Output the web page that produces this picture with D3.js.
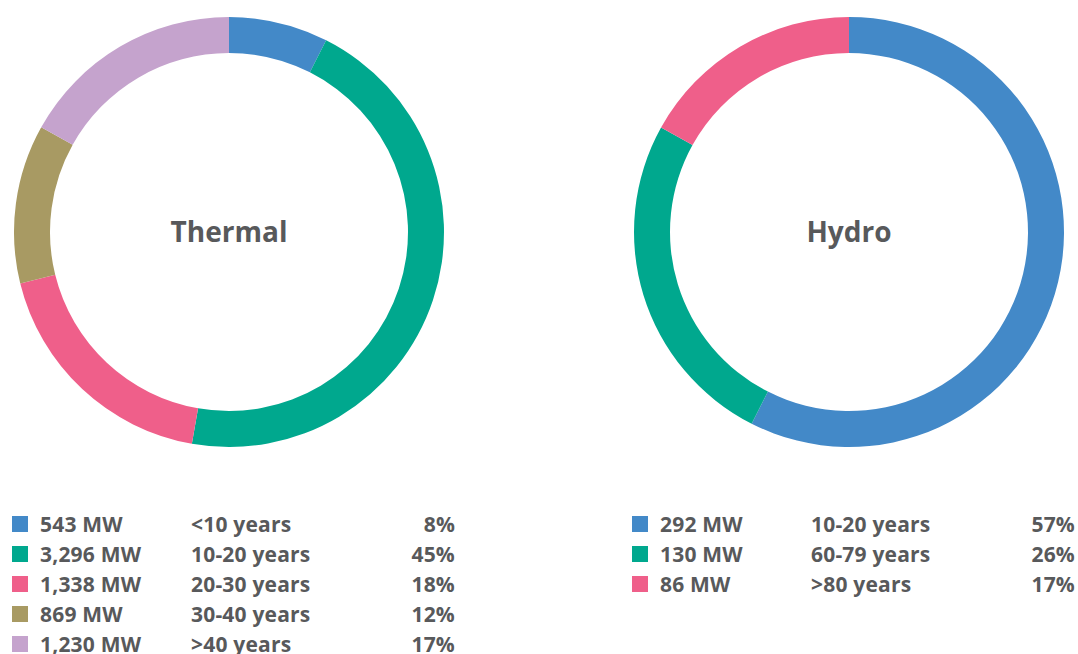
<!DOCTYPE html>
<html>
<head>
<meta charset="utf-8">
<script src="https://cdn.jsdelivr.net/npm/d3@7"></script>
<style>
  body { margin: 0; background: #fff; }
  text { font-family: "Open Sans", Lato, sans-serif; fill: #58595b; font-weight: 700; }
</style>
</head>
<body>
<div id="chart"></div>
<script>
var svgWidth = 1078;
var svgHeight = 654;

// data
var thermalMW = [543, 3296, 1338, 869, 1230];
var thermalAges = ["<10 years", "10-20 years", "20-30 years", "30-40 years", ">40 years"];
var thermalPct = ["8%", "45%", "18%", "12%", "17%"];
var thermalColors = ["#4389c8", "#00a88e", "#ef5f8a", "#a89a63", "#c5a3cd"];

var hydroMW = [292, 130, 86];
var hydroAges = ["10-20 years", "60-79 years", ">80 years"];
var hydroPct = ["57%", "26%", "17%"];
var hydroColors = ["#4389c8", "#00a88e", "#ef5f8a"];

var svg = d3.select("#chart")
    .append("svg")
    .attr("width", svgWidth)
    .attr("height", svgHeight);

var outerR = 215;
var innerR = 179;

var pie = d3.pie().sort(null).value(d => d);
var arc = d3.arc().innerRadius(innerR).outerRadius(outerR);

function drawDonut(cx, values, colors, title) {
    var g = svg.append("g")
        .attr("transform", `translate(${cx}, 232)`);
    g.selectAll("path")
        .data(pie(values))
        .enter()
        .append("path")
        .attr("d", arc)
        .attr("fill", (d, i) => colors[i]);
    g.append("text")
        .attr("text-anchor", "middle")
        .attr("y", 10)
        .style("font-size", "28px")
        .text(title);
}

function drawLegend(x0, values, ages, pcts, colors) {
    var rows = svg.append("g")
        .selectAll("g")
        .data(values)
        .enter()
        .append("g")
        .attr("transform", (d, i) => `translate(${x0}, ${524 + i * 30})`)
        .style("font-size", "21px")
        .style("letter-spacing", "0.2px");
    rows.append("rect")
        .attr("x", 0)
        .attr("y", -8)
        .attr("width", 16)
        .attr("height", 16)
        .attr("fill", (d, i) => colors[i]);
    rows.append("text")
        .attr("x", 28)
        .attr("y", 8)
        .text(d => d3.format(",")(d) + " MW");
    rows.append("text")
        .attr("x", 179)
        .attr("y", 8)
        .text((d, i) => ages[i]);
    rows.append("text")
        .attr("x", 443)
        .attr("y", 8)
        .attr("text-anchor", "end")
        .text((d, i) => pcts[i]);
}

drawDonut(229, thermalMW, thermalColors, "Thermal");
drawDonut(849, hydroMW, hydroColors, "Hydro");
drawLegend(12, thermalMW, thermalAges, thermalPct, thermalColors);
drawLegend(632, hydroMW, hydroAges, hydroPct, hydroColors);
</script>
</body>
</html>
